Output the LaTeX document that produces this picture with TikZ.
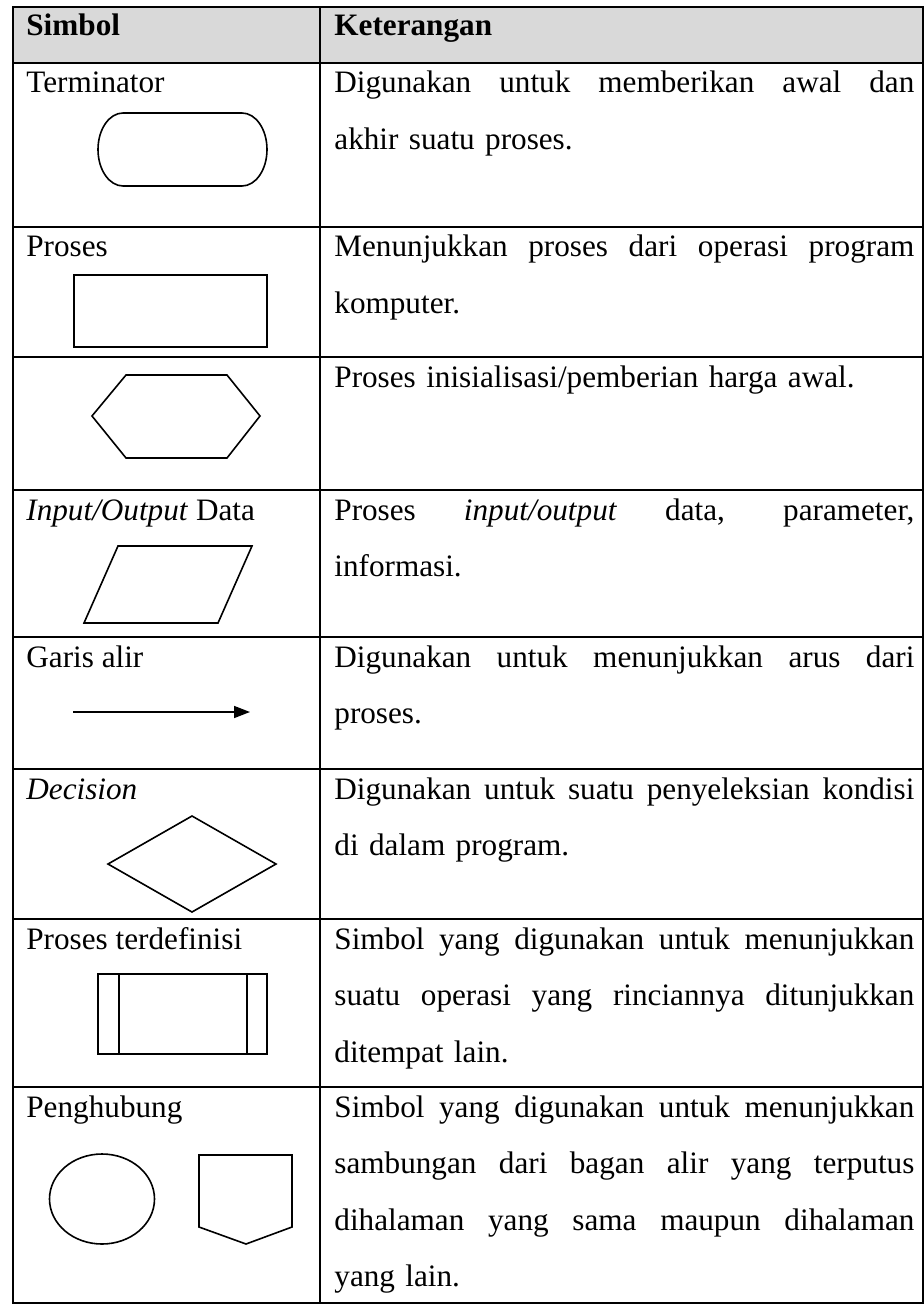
\documentclass[tikz,border=0pt]{standalone}
\usepackage{fontspec}
\setmainfont{Liberation Serif}
\usetikzlibrary{arrows.meta}
\definecolor{abu}{HTML}{D9D9D9}
\newcommand{\rata}[1]{{\spaceskip=0pt\xspaceskip=0pt\makebox[290pt][s]{#1}}}

\begin{document}
\begin{tikzpicture}[x=0.5pt, y=-0.5pt, font=\fontsize{15.6}{28.25}\selectfont,
  garis/.style={line width=1pt},
  simbol/.style={line width=0.8pt},
  lbl/.style={anchor=base west, inner sep=0pt},
  ket/.style={anchor=base west, inner sep=0pt, text width=290pt, align=left}]
\useasboundingbox (0,0) rectangle (924,1304);

\fill[abu] (12.5,7) rectangle (923,63);
\draw[garis] (12.5,7) rectangle (923,1303);
\draw[garis] (320,7) -- (320,1303);
\foreach \y in {63,227,357,490,637,769,919,1087}
  \draw[garis] (12.5,\y) -- (923,\y);

\node[lbl] (hSimbol) at (26,36) {\bfseries Simbol};
\node[lbl] (hKet) at (334,36) {\bfseries Keterangan};

\node[lbl] (tTerm) at (26,93) {Terminator};
\node[ket] (kTerm) at (334,93) {\rata{Digunakan untuk memberikan awal dan}\\akhir suatu proses.};
\draw[simbol] (123,113) -- (242,113) arc[start angle=-90, end angle=90, x radius=25, y radius=36.5]
  -- (123,186) arc[start angle=90, end angle=270, x radius=25, y radius=36.5] -- cycle;

\node[lbl] (tProses) at (26,257) {Proses};
\node[ket] (kProses) at (334,257) {\rata{Menunjukkan proses dari operasi program}\\komputer.};
\draw[simbol] (74,275) rectangle (267,347);

\node[ket] (kInisial) at (334,387) {Proses inisialisasi/pemberian harga awal.};
\draw[simbol] (126,375) -- (227,375) -- (260,416) -- (227,458) -- (126,458) -- (92,416) -- cycle;

\node[lbl] (tIO) at (26,520) {\textit{Input/Output} Data};
\node[ket] (kIO) at (334,520) {\rata{Proses \textit{input/output} data, parameter,}\\informasi.};
\draw[simbol] (118,546) -- (252,546) -- (218,623) -- (84,623) -- cycle;

\node[lbl] (tGaris) at (26,667) {Garis alir};
\node[ket] (kGaris) at (334,667) {\rata{Digunakan untuk menunjukkan arus dari}\\proses.};
\coordinate (alirA) at (73,712);
\coordinate (alirB) at (250,712);
\draw[simbol, -{Triangle[length=8pt, width=6pt]}] (alirA) -- (alirB);

\node[lbl] (tDecision) at (26,799) {\textit{Decision}};
\node[ket] (kDecision) at (334,799) {\rata{Digunakan untuk suatu penyeleksian kondisi}\\di dalam program.};
\draw[simbol] (108,864) -- (192,816) -- (276,864) -- (192,912) -- cycle;

\node[lbl] (tPredef) at (26,949) {Proses terdefinisi};
\node[ket] (kPredef) at (334,949) {\rata{Simbol yang digunakan untuk menunjukkan}\\\rata{suatu operasi yang rinciannya ditunjukkan}\\ditempat lain.};
\draw[simbol] (98,974) rectangle (267,1054);
\draw[simbol] (119,974) -- (119,1054);
\draw[simbol] (247,974) -- (247,1054);

\node[lbl] (tHubung) at (26,1117) {Penghubung};
\node[ket] (kHubung) at (334,1117) {\rata{Simbol yang digunakan untuk menunjukkan}\\\rata{sambungan dari bagan alir yang terputus}\\\rata{dihalaman yang sama maupun dihalaman}\\yang lain.};
\draw[simbol] (102,1199) ellipse [x radius=52.5, y radius=45];
\draw[simbol] (199,1155) -- (292,1155) -- (292,1227) -- (246,1244) -- (199,1227) -- cycle;
\end{tikzpicture}
\end{document}
